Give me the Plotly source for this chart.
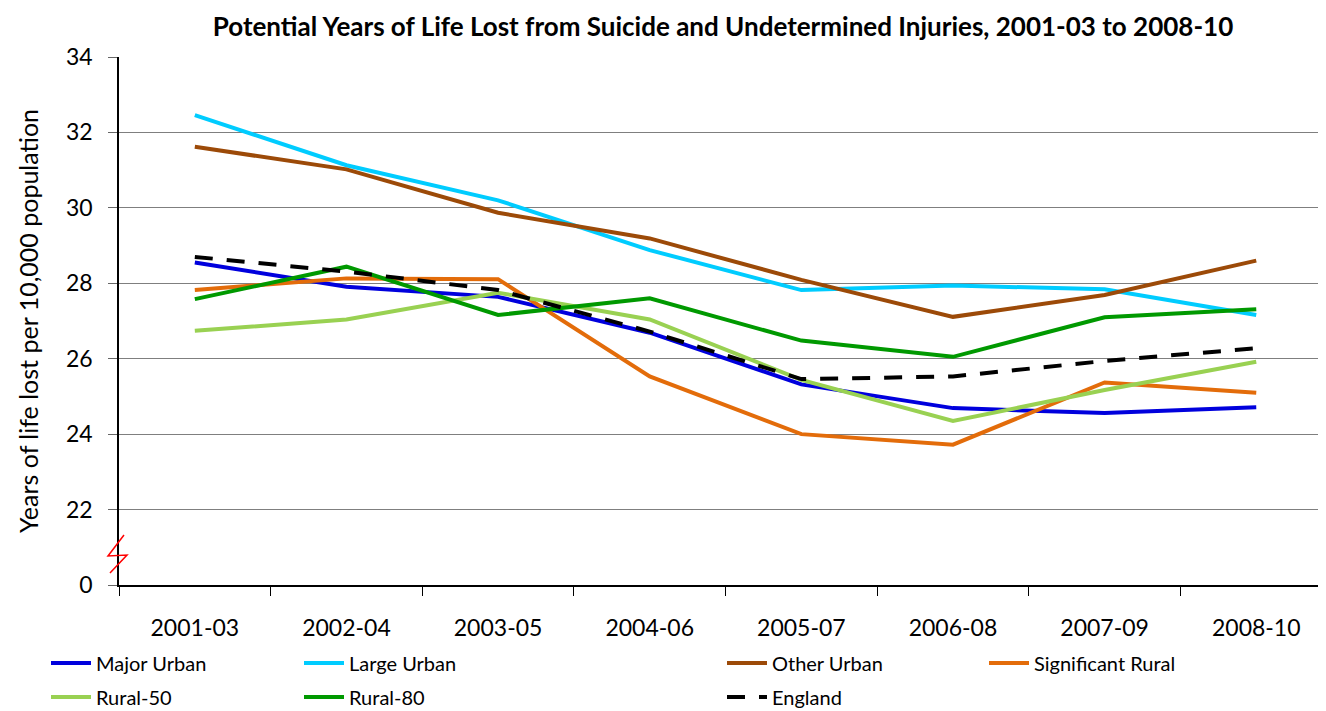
import plotly.graph_objects as go

categories = ["2001-03", "2002-04", "2003-05", "2004-06", "2005-07", "2006-08", "2007-09", "2008-10"]

major_urban = [28.55, 27.91, 27.64, 26.69, 25.32, 24.69, 24.56, 24.71]
large_urban = [32.46, 31.13, 30.20, 28.88, 27.82, 27.94, 27.84, 27.16]
other_urban = [31.62, 31.02, 29.87, 29.19, 28.09, 27.11, 27.69, 28.60]
significant_rural = [27.82, 28.13, 28.11, 25.53, 24.00, 23.72, 25.37, 25.10]
rural_50 = [26.74, 27.04, 27.75, 27.04, 25.44, 24.35, 25.17, 25.92]
rural_80 = [27.58, 28.44, 27.16, 27.60, 26.48, 26.05, 27.10, 27.31]
england = [28.70, 28.31, 27.82, 26.72, 25.46, 25.53, 25.94, 26.28]

y_tickvals = [20, 22, 24, 26, 28, 30, 32, 34]
y_ticktext = ["0", "22", "24", "26", "28", "30", "32", "34"]

series = [
    ("Major Urban", major_urban, "#0000DD", "solid"),
    ("Large Urban", large_urban, "#00CCFF", "solid"),
    ("Other Urban", other_urban, "#9C4A08", "solid"),
    ("Significant Rural", significant_rural, "#E36C0A", "solid"),
    ("Rural-50", rural_50, "#99D152", "solid"),
    ("Rural-80", rural_80, "#009900", "solid"),
    ("England", england, "#000000", "18px,14px"),
]

FONT = "Lato"
OFF = 8  # default page body margin
W, H = 1326 - OFF, 711 - OFF
ML, MR, MT, MB = 119 - OFF, 0, 57 - OFF, 126
PW = W - ML - MR
PH = H - MT - MB

def px_to_paper_x(px):
    # px in page pixels
    return (px - OFF - ML) / PW

def py_to_paper_y(py):
    return (H - MB - (py - OFF)) / PH

# legend positions (column x pixel, row y pixel) in page pixels
legend_pos = {
    "Major Urban": (46, 663),
    "Large Urban": (299, 663),
    "Other Urban": (722, 663),
    "Significant Rural": (984, 663),
    "Rural-50": (46, 697),
    "Rural-80": (299, 697),
    "England": (722, 697),
}

fig = go.Figure()
layout_legends = {}
for i, (name, vals, color, dash) in enumerate(series):
    lname = "legend" if i == 0 else f"legend{i+1}"
    fig.add_trace(go.Scatter(
        x=categories, y=vals, name=name, mode="lines",
        line=dict(color=color, width=4, dash=dash),
        legend=lname,
    ))
    lx, ly = legend_pos[name]
    layout_legends[lname] = dict(
        x=px_to_paper_x(lx), y=py_to_paper_y(ly),
        xanchor="left", yanchor="middle",
        xref="paper", yref="paper",
        bgcolor="rgba(0,0,0,0)",
        font=dict(family=FONT, size=20, color="black"),
        itemwidth=40,
    )

fig.update_layout(
    width=W, height=H,
    margin=dict(l=ML, r=MR, t=MT, b=MB, autoexpand=False),
    paper_bgcolor="white", plot_bgcolor="white",
    font=dict(family=FONT, color="black"),
    title=dict(
        text="<b>Potential Years of Life Lost from Suicide and Undetermined Injuries, 2001-03 to 2008-10</b>",
        x=px_to_paper_x(723), xref="paper", xanchor="center",
        y=1 - (27 - OFF) / H, yref="container", yanchor="middle",
        font=dict(family=FONT, size=26, color="black"),
    ),
    showlegend=True,
    **layout_legends,
)

fig.update_xaxes(
    type="category",
    range=[-0.5, 7.46],
    showline=True, linecolor="black", linewidth=1.5,
    ticks="outside", tickson="boundaries", ticklen=9, tickcolor="black",
    showgrid=False,
    tickfont=dict(family=FONT, size=23, color="black"),
    ticklabelstandoff=22,
)
fig.update_yaxes(
    range=[20, 34],
    tickvals=y_tickvals, ticktext=y_ticktext,
    showline=True, linecolor="black", linewidth=1.5,
    ticks="outside", ticklen=9, tickcolor="#666666",
    showgrid=True, gridcolor="#7F7F7F", gridwidth=1,
    zeroline=False,
    tickfont=dict(family=FONT, size=23, color="black"),
    ticklabelstandoff=11,
    title=dict(text="Years of life lost per 10,000 population",
               font=dict(family=FONT, size=25, color="black"), standoff=20),
)

# axis-break squiggle (page pixels)
sx = [124, 108, 127, 110]
sy = [535, 556, 555, 573]
path = "M " + " L ".join(f"{px_to_paper_x(a):.5f},{py_to_paper_y(b):.5f}" for a, b in zip(sx, sy))
fig.add_shape(type="path", path=path, xref="paper", yref="paper",
              line=dict(color="red", width=1.5), layer="above")

fig.write_html("out.html")
